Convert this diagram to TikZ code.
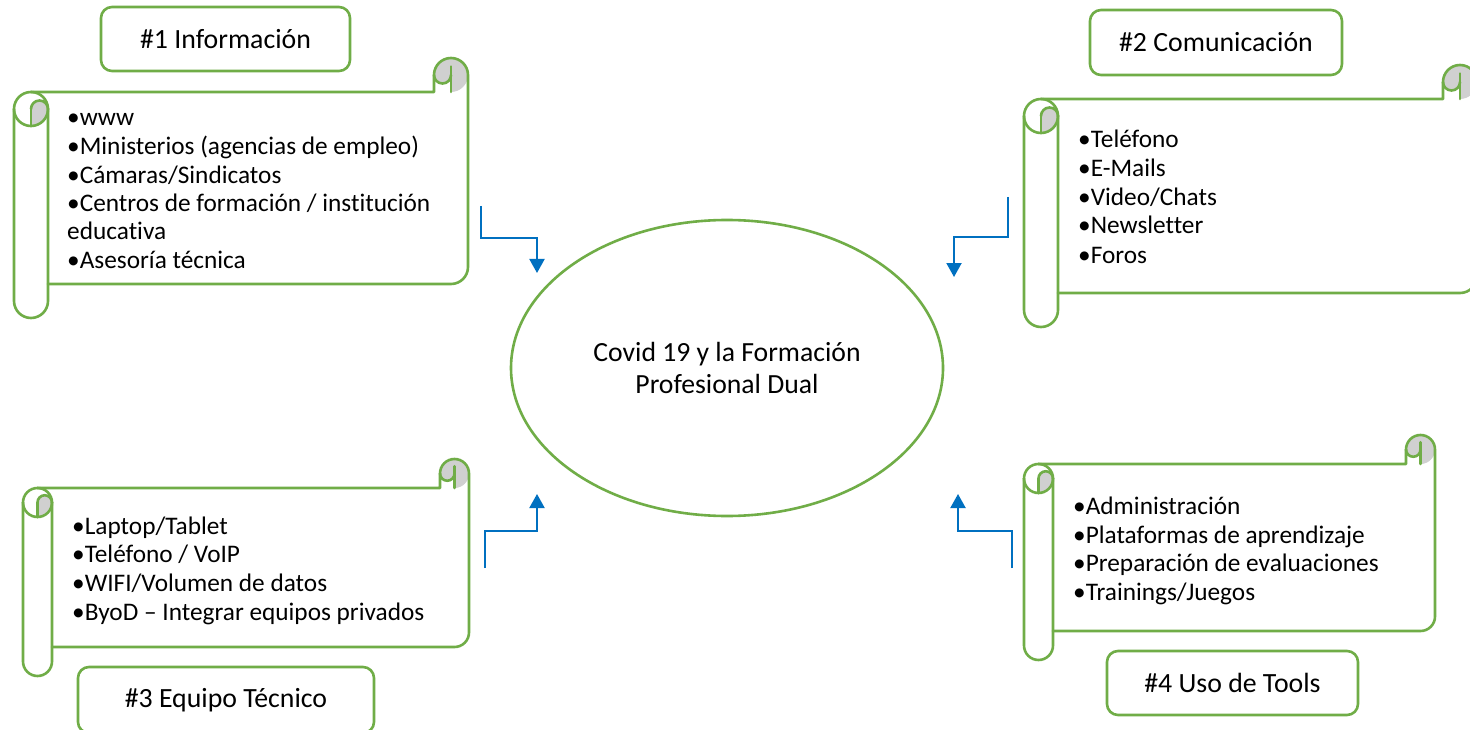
\documentclass[tikz,border=0pt]{standalone}
\usepackage{fontspec}
\setmainfont{Carlito}[Ligatures=CommonOff]
\usetikzlibrary{arrows.meta,shapes.geometric}
\definecolor{grn}{HTML}{70AD47}
\definecolor{blu}{HTML}{0070C0}
\definecolor{gry}{HTML}{D0D0D0}
\tikzset{
  scr/.style={draw=grn, line width=2.6pt, line join=round, line cap=round},
  item/.style={anchor=base west, inner sep=0pt, font=\fontsize{25.3}{30}\selectfont, text=black},
  titlebox/.style={draw=grn, line width=2.6pt, rounded corners=11pt, fill=white, inner sep=0pt,
    font=\fontsize{27.8}{32}\selectfont, text=black},
  arr/.style={draw=blu, line width=2pt, -{Triangle[width=15pt,length=14pt]}},
}
\newcommand\drawscroll[5]{%
  \pgfmathsetmacro\sL{#1}\pgfmathsetmacro\sT{#2}\pgfmathsetmacro\sR{#3}\pgfmathsetmacro\sB{#4}%
  \pgfmathsetmacro\sc{#5}\pgfmathsetmacro\sr{#5/2}\pgfmathsetmacro\sq{#5/4}%
  % grey curl top right
  \fill[gry] (\sR-\sr,\sT+\sr) circle[radius=\sr];
  \fill[white] (\sR-\sc,\sT+\sr) arc[start angle=180,end angle=0,radius=\sq] -- (\sR-\sr,\sT+\sc) -- (\sR-\sc,\sT+\sc) -- cycle;
  % grey curl left
  \fill[gry] (\sL+\sr,\sT+\sc+\sr) arc[start angle=180,end angle=360,radius=\sq]
     arc[start angle=0,end angle=90,radius=\sr] -- cycle;
  % body outline
  \draw[scr] (\sL+\sr,\sT+\sc) -- (\sR-\sc,\sT+\sc) -- (\sR-\sc,\sT+\sr)
     arc[start angle=180,end angle=360,radius=\sr] -- (\sR,\sB-\sc-\sr)
     arc[start angle=0,end angle=90,radius=\sr] -- (\sL+\sc,\sB-\sc);
  \draw[scr] (\sR-\sc,\sT+\sr) arc[start angle=180,end angle=0,radius=\sq];
  \draw[scr] (\sR-\sr,\sT+\sc) -- (\sR-\sr,\sT+\sr-\sq);
  % left roll
  \draw[scr] (\sL,\sT+\sc+\sr) -- (\sL,\sB-\sr) arc[start angle=180,end angle=0,radius=\sr] -- (\sL+\sc,\sT+\sc+\sr);
  \draw[scr] (\sL+\sr,\sT+\sc+\sr) circle[radius=\sr];
  \draw[scr] (\sL+\sr,\sT+\sc+\sr) arc[start angle=180,end angle=360,radius=\sq];
  \draw[scr] (\sL+\sr,\sT+\sc+\sr) -- (\sL+\sr,\sT+\sc+\sc);
}
\begin{document}
\begin{tikzpicture}[x=1pt,y=-1pt]
\useasboundingbox (0,0) rectangle (1470,730);
\clip (0,0) rectangle (1470,730);
\fill[white] (0,0) rectangle (1470,730);

% scrolls
\drawscroll{14}{58}{468}{318}{34}
\drawscroll{1024}{65}{1477}{327}{34}
\drawscroll{23}{459}{469}{676}{29}
\drawscroll{1024}{435}{1435}{660}{29}

% scroll 1 text
\node[item] (s1a) at (67,126) {•www};
\node[item] (s1b) at (67,155) {•Ministerios (agencias de empleo)};
\node[item] (s1c) at (67,184) {•Cámaras/Sindicatos};
\node[item] (s1d) at (67,212) {•Centros de formación / institución};
\node[item] (s1e) at (67,240) {educativa};
\node[item] (s1f) at (67,268.5) {•Asesoría técnica};

% scroll 2 text
\node[item] (s2a) at (1078,148) {•Teléfono};
\node[item] (s2b) at (1078,177) {•E-Mails};
\node[item] (s2c) at (1078,206) {•Video/Chats};
\node[item] (s2d) at (1078,234) {•Newsletter};
\node[item] (s2e) at (1078,263) {•Foros};

% scroll 3 text
\node[item] (s3a) at (72,534) {•Laptop/Tablet};
\node[item] (s3b) at (72,562) {•Teléfono / VoIP};
\node[item] (s3c) at (72,591) {•WIFI/Volumen de datos};
\node[item] (s3d) at (72,620) {•ByoD – Integrar equipos privados};

% scroll 4 text
\node[item] (s4a) at (1073,514) {•Administración};
\node[item] (s4b) at (1073,543) {•Plataformas de aprendizaje};
\node[item] (s4c) at (1073,571) {•Preparación de evaluaciones};
\node[item] (s4d) at (1073,600) {•Trainings/Juegos};

% title boxes
\node[titlebox, minimum width=249pt, minimum height=64pt] (t1) at (225.5,39) {\#1 Información};
\node[titlebox, minimum width=252pt, minimum height=65pt] (t2) at (1216,42.5) {\#2 Comunicación};
\node[titlebox, minimum width=296pt, minimum height=66pt] (t3) at (226,700) {\#3 Equipo Técnico};
\node[titlebox, minimum width=251pt, minimum height=64pt] (t4) at (1232.5,683) {\#4 Uso de Tools};

% centre ellipse
\node[ellipse, draw=grn, line width=2.6pt, minimum width=432pt, minimum height=296pt, inner sep=0pt,
  align=center, font=\fontsize{27.7}{31.5}\selectfont] (c) at (727,368)
  {Covid 19 y la Formación\\Profesional Dual};

% connectors
\coordinate (a1s) at (481,206);
\coordinate (a1m) at (481,238);
\coordinate (a1n) at (537,238);
\coordinate (a1e) at (537,273);
\draw[arr] (a1s) -- (a1m) -- (a1n) -- (a1e);

\coordinate (a2s) at (1008,197);
\coordinate (a2m) at (1008,237);
\coordinate (a2n) at (954,237);
\coordinate (a2e) at (954,277);
\draw[arr] (a2s) -- (a2m) -- (a2n) -- (a2e);

\coordinate (a3s) at (485,568);
\coordinate (a3m) at (485,531);
\coordinate (a3n) at (537,531);
\coordinate (a3e) at (537,494);
\draw[arr] (a3s) -- (a3m) -- (a3n) -- (a3e);

\coordinate (a4s) at (1012,568);
\coordinate (a4m) at (1012,531);
\coordinate (a4n) at (958,531);
\coordinate (a4e) at (958,494);
\draw[arr] (a4s) -- (a4m) -- (a4n) -- (a4e);
\end{tikzpicture}
\end{document}
